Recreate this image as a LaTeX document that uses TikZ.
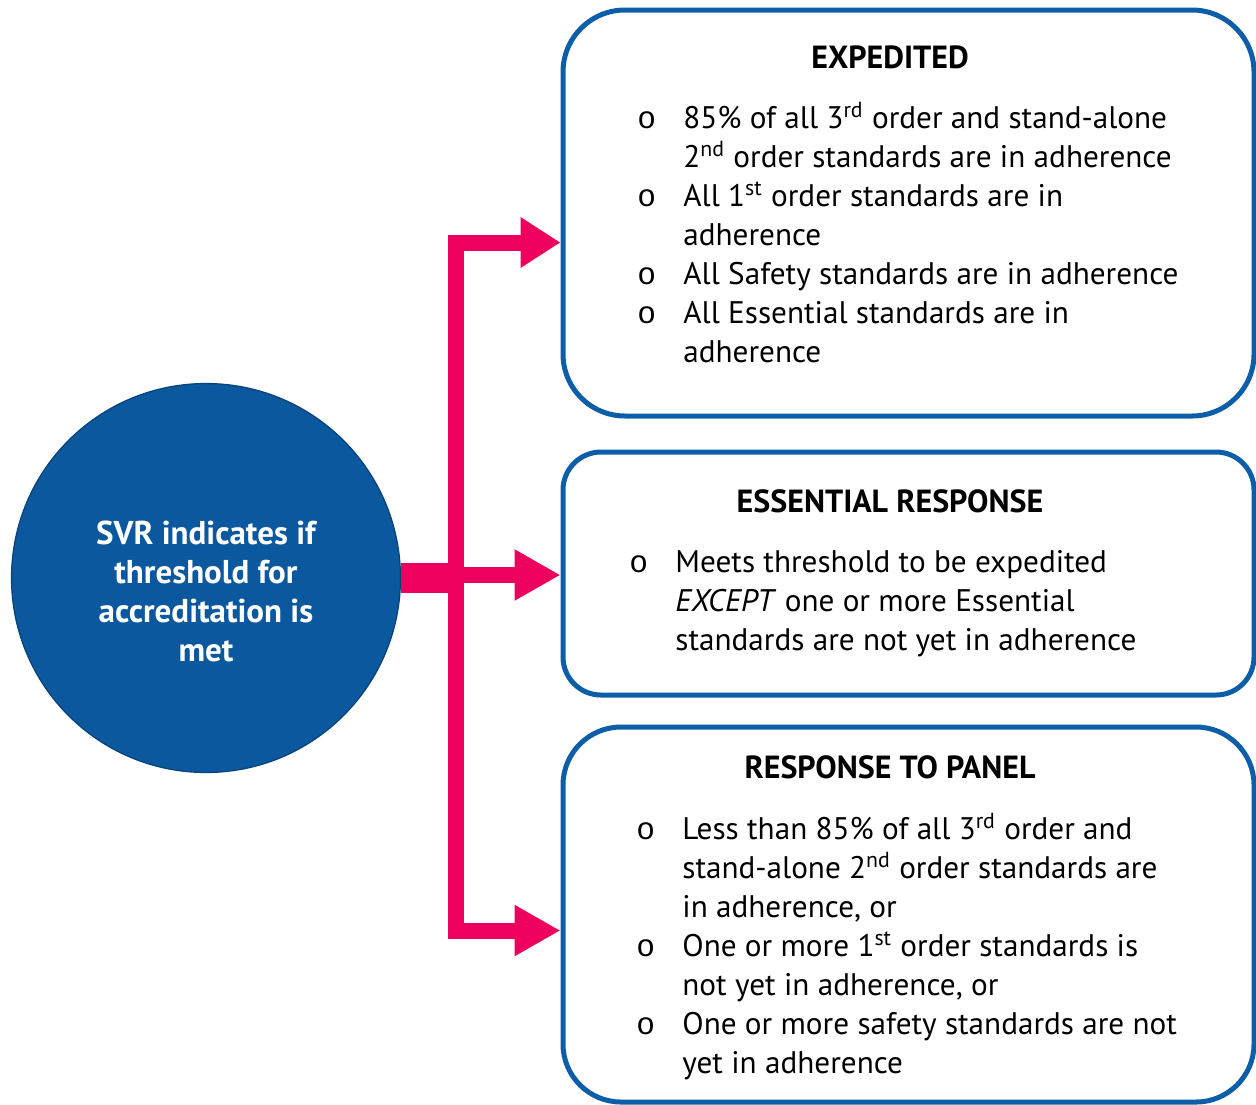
\documentclass[tikz,border=0pt]{standalone}
\usepackage{fontspec}
\setmainfont{PT Sans}
\newfontfamily\bulletfont{Liberation Mono}
\usetikzlibrary{arrows.meta, positioning}
\definecolor{SVRBlue}{HTML}{0B589E}
\definecolor{SVRFrame}{HTML}{0C5EA8}
\definecolor{SVRPink}{HTML}{EE005F}

\newcommand{\bul}{{\bulletfont o}}
\newcommand{\sups}[1]{\textsuperscript{#1}}

\begin{document}
\begin{tikzpicture}[x=0.5pt, y=-0.5pt,
    outcome/.style={rectangle, draw=SVRFrame, line width=2.5pt, inner sep=0pt, minimum width=345.5pt},
    heading/.style={anchor=base, inner sep=0pt, font=\bfseries\fontsize{16}{19.5}\selectfont},
    itemlist/.style={anchor=base west, inner sep=0pt, font=\fontsize{15.6}{19.5}\selectfont},
    flow/.style={draw=SVRPink, line width=8pt, line join=miter},
    stem/.style={draw=SVRPink, line width=15pt}]

    \useasboundingbox (0,0) rectangle (1256,1104);

    \node[circle, fill=SVRBlue, draw=SVRBlue!75!black, line width=0.6pt, minimum size=194.5pt, inner sep=0pt] (svr) at (206,578) {};
    \node[anchor=base, inner sep=0pt, text=white, font=\bfseries\fontsize{16.5}{19.5}\selectfont] (svrtext) at (206,544)
        {\begin{tabular}[t]{@{}c@{}}SVR indicates if\\ threshold for\\ accreditation is\\ met\end{tabular}};

    \node[outcome, minimum height=203pt, rounded corners=31pt] (expedited) at (908.5,213) {};
    \node[outcome, minimum height=121.5pt, rounded corners=19pt] (essential) at (908.5,573.5) {};
    \node[outcome, minimum height=187.5pt, rounded corners=29pt] (panel) at (908.5,914.5) {};

    % connectors
    \coordinate (trunktop) at (456,242.5);
    \coordinate (trunkmid) at (456,575);
    \coordinate (trunkbot) at (456,930.5);

    \draw[stem] (svr.east) -- (svr.east -| trunkmid);
    \draw[flow, {Triangle[length=20pt, width=24pt]}-{Triangle[length=23pt, width=24pt]}]
        (trunktop -| expedited.west) -- (trunktop) -- (trunkbot) -- (trunkbot -| panel.west);
    \draw[flow, -{Triangle[length=23pt, width=24pt]}] (trunkmid) -- (trunkmid -| essential.west);

    % texts
    \node[heading] (exphead) at (890,68) {EXPEDITED};
    \node[itemlist] (expitems) at (637,128) {\begin{tabular}[t]{@{}p{23pt}@{}l@{}}
        \bul & 85\% of all 3\sups{rd} order and stand-alone\\
             & 2\sups{nd} order standards are in adherence\\
        \bul & All 1\sups{st} order standards are in\\
             & adherence\\
        \bul & All Safety standards are in adherence\\
        \bul & All Essential standards are in\\
             & adherence
    \end{tabular}};

    \node[heading] (esshead) at (890,512) {ESSENTIAL RESPONSE};
    \node[itemlist] (essitems) at (629,572) {\begin{tabular}[t]{@{}p{23pt}@{}l@{}}
        \bul & Meets threshold to be expedited\\
             & \textit{EXCEPT} one or more Essential\\
             & standards are not yet in adherence
    \end{tabular}};

    \node[heading] (panhead) at (890,778) {RESPONSE TO PANEL};
    \node[itemlist] (panitems) at (636,839) {\begin{tabular}[t]{@{}p{23pt}@{}l@{}}
        \bul & Less than 85\% of all 3\sups{rd} order and\\
             & stand-alone 2\sups{nd} order standards are\\
             & in adherence, or\\
        \bul & One or more 1\sups{st} order standards is\\
             & not yet in adherence, or\\
        \bul & One or more safety standards are not\\
             & yet in adherence
    \end{tabular}};
\end{tikzpicture}
\end{document}
